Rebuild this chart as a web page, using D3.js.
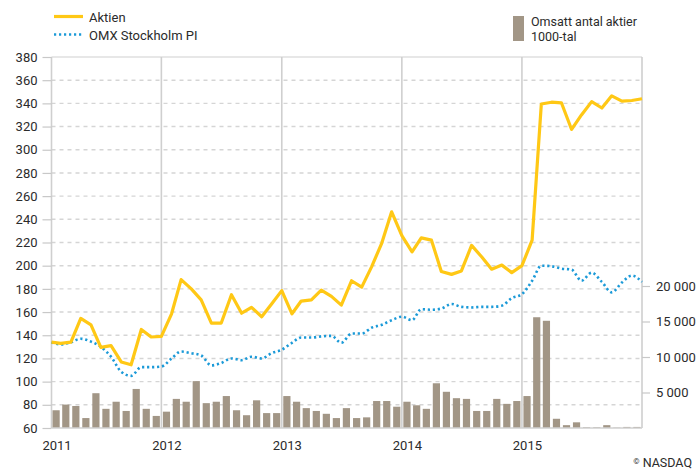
<!DOCTYPE html>
<html>
<head>
<meta charset="utf-8">
<script src="https://cdn.jsdelivr.net/npm/d3@7"></script>
<style>
  body { margin: 0; background: #fff; }
  svg text { font-family: Roboto, "Liberation Sans", Arial, sans-serif; fill: #2b2b2b; }
</style>
</head>
<body>
<div id="chart"></div>
<script>
// Månadsdata, första punkten = feb 2011
const startMonth = new Date(2011, 1, 1);

// Aktien (kurs), en punkt per månadsskifte
const aktien = [134, 133, 134, 154.5, 149, 129.5, 131, 117, 114.5, 145, 138.5, 139,
  158.5, 188, 180, 170.5, 150.5, 150.5, 175, 159, 164, 156, 167, 178.5,
  158.5, 169.5, 170.5, 179, 173.5, 166, 187, 181.5, 199, 219.5, 246.5, 226,
  212, 224, 222, 195, 192.5, 195.5, 217.5, 207.5, 197, 200.5, 194, 200,
  222, 339.5, 341, 340.5, 317.5, 330, 341.5, 336, 346.5, 342, 342.5, 344];

// OMX Stockholm PI (omräknat)
const omx = [134, 132, 134, 137, 134.5, 130, 121.5, 108.5, 105, 112.5, 112.5, 113,
  120, 126, 124.5, 122.5, 114, 116, 120, 118.5, 121.5, 120, 124.5, 127.5,
  133.5, 138, 138, 139, 139.5, 133.5, 141.5, 141.5, 146.5, 149, 153, 156,
  153, 162.5, 162, 163, 167, 164.5, 164, 164.5, 164.5, 165.5, 172, 175.5,
  187, 200, 199.5, 197.5, 196.5, 187, 194, 186, 177, 185.5, 191.5, 186];

// Omsatt antal aktier, 1000-tal, en stapel per månad
const volym = [2500, 3300, 3100, 1400, 4900, 2700, 3700, 2400, 5500, 2700, 1700,
  2300, 4100, 3700, 6600, 3500, 3700, 4500, 2500, 1800, 3900, 2100, 2100,
  4500, 3700, 2800, 2400, 2000, 1400, 2800, 1400, 1500, 3800, 3800, 3000,
  3700, 3200, 2700, 6300, 5100, 4200, 4100, 2400, 2400, 4100, 3400, 3800,
  4500, 15600, 15100, 1300, 400, 800, 100, 100, 400, 50, 150, 150];

const leftTicks = [60, 80, 100, 120, 140, 160, 180, 200, 220, 240, 260, 280, 300, 320, 340, 360, 380];
const rightTicks = [5000, 10000, 15000, 20000];
const yearTicks = ["2011-02-01", "2012-01-01", "2013-01-01", "2014-01-01", "2015-01-01"];

const W = 696, H = 470;
const plot = { left: 51.5, right: 642, top: 57, bottom: 428 };

const svg = d3.select("#chart").append("svg")
  .attr("width", W).attr("height", H);

const x = d3.scaleTime()
  .domain([startMonth, d3.timeMonth.offset(startMonth, 59)])
  .range([plot.left, plot.right]);
const yL = d3.scaleLinear().domain([60, 380]).range([plot.bottom, plot.top]);
const yR = d3.scaleLinear().domain([0, 20000]).range([plot.bottom, 286]);

const monthAt = i => d3.timeMonth.offset(startMonth, i);
const years = yearTicks.map(s => d3.isoParse(s));

// Stödlinjer
svg.append("g").selectAll("line")
  .data(leftTicks.filter(v => v > 60 && v < 380))
  .join("line")
    .attr("x1", plot.left).attr("x2", plot.right)
    .attr("y1", d => yL(d)).attr("y2", d => yL(d))
    .attr("stroke", "#d5d5d5").attr("stroke-width", 1.4)
    .attr("stroke-dasharray", "4,4");

svg.append("line")
  .attr("x1", plot.left).attr("x2", plot.right)
  .attr("y1", yL(380)).attr("y2", yL(380))
  .attr("stroke", "#d0d0d0").attr("stroke-width", 1.2);

svg.append("g").selectAll("line")
  .data([years[0], ...years.slice(1), x.domain()[1]])
  .join("line")
    .attr("x1", d => x(d)).attr("x2", d => x(d))
    .attr("y1", plot.top).attr("y2", plot.bottom)
    .attr("stroke", "#cfcfcf").attr("stroke-width", 1.6);

// Staplar (höger axel)
svg.append("g").selectAll("rect")
  .data(volym)
  .join("rect")
    .attr("x", (d, i) => (x(monthAt(i)) + x(monthAt(i + 1))) / 2 - 3.6)
    .attr("width", 7.2)
    .attr("y", d => yR(d))
    .attr("height", d => yR(0) - yR(d))
    .attr("fill", "#a29686");

// Bottenlinje
svg.append("line")
  .attr("x1", plot.left).attr("x2", plot.right)
  .attr("y1", plot.bottom).attr("y2", plot.bottom)
  .attr("stroke", "#d0d0d0").attr("stroke-width", 1.4);

// Linjer
const omxLine = d3.line().x((d, i) => x(monthAt(i))).y(d => yL(d)).curve(d3.curveMonotoneX);
svg.append("path")
  .datum(omx)
  .attr("d", omxLine)
  .attr("fill", "none")
  .attr("stroke", "#1b9ad8")
  .attr("stroke-width", 2.6)
  .attr("stroke-dasharray", "2.2,2.8");

const aktLine = d3.line().x((d, i) => x(monthAt(i))).y(d => yL(d));
svg.append("path")
  .datum(aktien)
  .attr("d", aktLine)
  .attr("fill", "none")
  .attr("stroke", "#ffc815")
  .attr("stroke-width", 3.2)
  .attr("stroke-linejoin", "round");

// Vänster axel
const axL = svg.append("g")
  .attr("transform", `translate(${plot.left},0)`)
  .call(d3.axisLeft(yL).tickValues(leftTicks).tickSize(9).tickPadding(5));
axL.select(".domain").remove();
axL.selectAll(".tick line").attr("stroke", "#c8c8c8").attr("stroke-width", 1.2);
axL.selectAll(".tick text").style("font-size", "13px").attr("fill", "#2b2b2b");

// Höger axel
const sv = d3.formatLocale({ decimal: ",", thousands: " ", grouping: [3], currency: ["", ""] });
const axR = svg.append("g")
  .attr("transform", `translate(${plot.right},0)`)
  .call(d3.axisRight(yR).tickValues(rightTicks).tickSize(8).tickPadding(6).tickFormat(sv.format(",")));
axR.select(".domain").remove();
axR.selectAll(".tick line").attr("stroke", "#c8c8c8").attr("stroke-width", 1.2);
axR.selectAll(".tick text").style("font-size", "13px").attr("fill", "#2b2b2b");

// År
const axB = svg.append("g")
  .attr("transform", `translate(0,${plot.bottom})`)
  .call(d3.axisBottom(x).tickValues(years).tickSize(0).tickPadding(13)
    .tickFormat(d => d.getMonth() === 1 ? "2011" : d3.timeFormat("%Y")(d)));
axB.select(".domain").remove();
axB.selectAll(".tick text").style("font-size", "13px").attr("dx", 5).attr("fill", "#2b2b2b");

// Legend
const leg = svg.append("g");
leg.append("line").attr("x1", 54).attr("x2", 83).attr("y1", 16.5).attr("y2", 16.5)
  .attr("stroke", "#ffc815").attr("stroke-width", 3.2);
leg.append("text").attr("x", 89).attr("y", 21.5).style("font-size", "13px").text("Aktien");
leg.append("line").attr("x1", 54).attr("x2", 83).attr("y1", 34.5).attr("y2", 34.5)
  .attr("stroke", "#1b9ad8").attr("stroke-width", 2.6).attr("stroke-dasharray", "2.2,2.8");
leg.append("text").attr("x", 89).attr("y", 39.5).style("font-size", "13px").text("OMX Stockholm PI");

leg.append("rect").attr("x", 513).attr("y", 16).attr("width", 11).attr("height", 25).attr("fill", "#a29686");
leg.append("text").attr("x", 531).attr("y", 26).style("font-size", "12.5px").text("Omsatt antal aktier");
leg.append("text").attr("x", 531).attr("y", 41).style("font-size", "12.5px").text("1000-tal");

// Källa
const src = svg.append("text").attr("x", 692).attr("y", 467).attr("text-anchor", "end").style("font-size", "12.5px");
src.append("tspan").style("font-size", "8px").attr("dy", -3).text("©");
src.append("tspan").attr("dy", 3).text(" NASDAQ");
</script>
</body>
</html>
